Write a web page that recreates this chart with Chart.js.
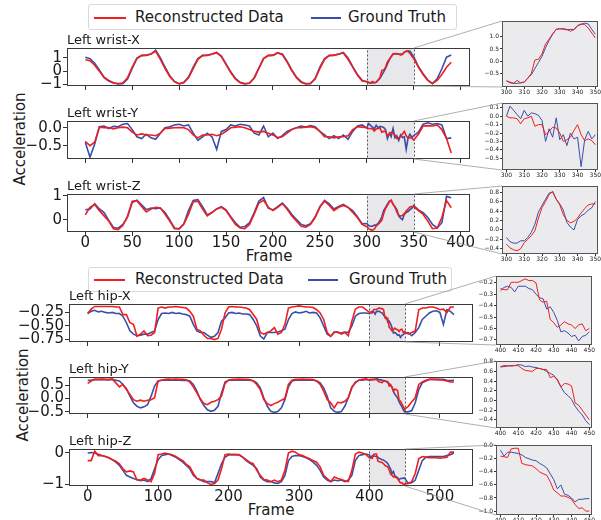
<!DOCTYPE html>
<html>
<head>
<meta charset="utf-8">
<script src="https://cdn.jsdelivr.net/npm/chart.js@4.4.0/dist/chart.umd.min.js"></script>
<style>
body { margin: 0; background: #fff; }
#fig { position: relative; width: 601px; height: 520px; overflow: hidden; background: #fff;
       font-family: "DejaVu Sans", sans-serif; color: #1a1a1a; }
#fig canvas { position: absolute; }
.leg { position: absolute; border: 1px solid #d9d9d9; border-radius: 3px; background: #fff; box-sizing: border-box; }
.leg i { position: absolute; height: 2px; }
.leg span { position: absolute; font-size: 15px; line-height: 15px; white-space: nowrap; }
.lbl { position: absolute; font-size: 15px; line-height: 15px; white-space: nowrap; transform: translate(-50%, -50%); }
</style>
</head>
<body>
<div id="fig">
  <div class="leg" style="left:88px;top:4px;width:369px;height:26px">
    <i style="left:5px;top:12px;width:32px;background:#f01e1e"></i><span style="left:46px;top:5px">Reconstructed Data</span>
    <i style="left:222px;top:12px;width:30px;background:#3a4ea8"></i><span style="left:259px;top:5px">Ground Truth</span>
  </div>
  <div class="leg" style="left:88px;top:267px;width:364px;height:25px">
    <i style="left:5px;top:11px;width:31px;background:#f01e1e"></i><span style="left:46px;top:4px">Reconstructed Data</span>
    <i style="left:219px;top:11px;width:30px;background:#3a4ea8"></i><span style="left:260px;top:4px">Ground Truth</span>
  </div>
  <div class="lbl" style="left:269px;top:256px">Frame</div>
  <div class="lbl" style="left:271px;top:510px">Frame</div>
  <div class="lbl" style="left:20px;top:139px;transform:translate(-50%,-50%) rotate(-90deg)">Acceleration</div>
  <div class="lbl" style="left:23px;top:395px;transform:translate(-50%,-50%) rotate(-90deg)">Acceleration</div>
</div>
<script>
var RED = '#f01e1e', BLUE = '#3a4ea8';
var FONT = '"DejaVu Sans", sans-serif';

function range(a, b, s) { var r = []; for (var v = a; v <= b; v += s) r.push(v); return r; }

// frame indices (coarse outside the zoomed window, every 2nd frame inside it)
var wristFrames = range(0, 295, 5).concat(range(355, 390, 5));
var wristZoomFrames = range(300, 350, 2);
var hipFrames = range(0, 395, 5).concat(range(455, 520, 5));
var hipZoomFrames = range(400, 450, 2);

var wristXTicks = [0, 50, 100, 150, 200, 250, 300, 350, 400];
var hipXTicks = [0, 100, 200, 300, 400, 500];
var wristZoomTicks = [300, 310, 320, 330, 340, 350];
var hipZoomTicks = [400, 410, 420, 430, 440, 450];

// ---- Left wrist ----
var wristX_rec = [0.86,0.8,0.45,0.0,-0.45,-0.7,-0.88,-0.98,-0.9,-0.5,
  0.3,1.0,1.2,1.2,1.3,1.5,0.9,0.2,-0.4,-0.8,
  -0.97,-0.88,-0.5,0.2,0.9,1.18,1.2,1.3,1.42,1.1,
  0.5,-0.1,-0.6,-0.88,-0.98,-0.9,-0.55,0.2,0.95,1.2,
  1.22,1.4,1.25,0.7,0.05,-0.5,-0.85,-0.98,-0.92,-0.6,
  0.2,0.9,1.2,1.2,1.3,1.38,0.9,0.3,-0.3,-0.75,
  0.3,-0.25,-0.7,-0.95,-0.7,-0.25,0.3,0.68];
var wristX_gt = [1.05,0.95,0.6,0.1,-0.5,-0.75,-0.9,-0.95,-0.95,-0.6,
  0.2,0.95,1.18,1.22,1.3,1.6,1.0,0.3,-0.35,-0.78,
  -0.96,-0.85,-0.45,0.3,0.95,1.2,1.22,1.28,1.4,1.15,
  0.55,-0.05,-0.55,-0.85,-0.95,-0.92,-0.5,0.25,0.95,1.18,
  1.2,1.38,1.3,0.75,0.1,-0.45,-0.8,-0.95,-0.96,-0.55,
  0.3,0.95,1.18,1.22,1.28,1.42,1.0,0.35,-0.25,-0.7,
  0.35,-0.2,-0.68,-0.95,-0.58,0.18,1.06,1.22];
var wristX_rec_zoom = [-0.8,-0.85,-0.9,-0.78,-0.88,-0.85,-0.7,-0.5,0.05,0.08,0.3,0.7,0.9,
  1.12,1.3,1.32,1.33,1.3,1.22,1.3,1.45,1.52,1.5,1.35,1.15,0.95];
var wristX_gt_zoom = [-0.8,-0.88,-0.9,-0.9,-0.88,-0.85,-0.68,-0.55,-0.3,-0.05,0.2,0.55,0.85,
  1.1,1.3,1.33,1.3,1.28,1.3,1.28,1.45,1.5,1.55,1.52,1.3,1.1];

var wristY_rec = [-0.38,-0.5,-0.4,0.02,0.0,0.01,-0.03,0.0,0.02,0.0,
  -0.12,-0.2,-0.17,-0.2,-0.2,-0.22,-0.15,-0.02,-0.01,0.0,
  0.01,0.0,-0.05,-0.2,-0.28,-0.2,-0.2,-0.18,-0.22,-0.18,
  -0.1,0.0,0.02,0.03,0.0,-0.05,-0.1,-0.12,-0.1,-0.15,
  -0.2,-0.27,-0.25,-0.15,-0.05,0.0,0.0,0.02,0.03,0.0,
  -0.1,-0.25,-0.25,-0.28,-0.25,-0.25,-0.22,-0.05,0.03,0.02,
  -0.18,0.05,0.06,0.05,0.08,-0.05,-0.3,-0.7];
var wristY_gt = [-0.4,-0.82,-0.45,0.03,0.05,-0.02,0.04,0.03,0.1,0.12,
  -0.05,-0.25,-0.3,-0.18,-0.28,-0.32,-0.15,0.0,0.03,0.08,
  0.1,0.05,0.08,-0.15,-0.35,-0.25,-0.15,-0.25,-0.6,-0.1,
  -0.05,0.08,0.05,0.1,0.08,0.05,-0.15,-0.2,0.05,-0.25,
  -0.15,-0.3,-0.22,-0.1,-0.05,0.0,0.05,0.02,0.06,0.03,
  -0.1,-0.2,-0.3,-0.22,-0.3,-0.2,-0.32,-0.1,0.05,0.08,
  -0.12,0.1,0.14,0.1,0.12,0.08,-0.3,-0.28];
var wristY_rec_zoom = [0.0,-0.02,-0.02,-0.03,-0.09,-0.03,-0.02,0.0,-0.12,-0.1,-0.1,-0.22,-0.18,
  -0.13,-0.14,-0.2,-0.3,-0.28,-0.25,-0.17,-0.1,-0.22,-0.29,-0.27,-0.29,-0.34];
var wristY_gt_zoom = [0.0,0.12,0.07,0.02,-0.03,0.07,0.0,0.04,0.03,0.01,-0.05,-0.3,-0.15,
  -0.25,-0.02,-0.28,-0.22,-0.35,-0.2,-0.27,-0.25,-0.6,-0.28,-0.18,-0.27,-0.22];

var wristZ_rec = [0.2,0.52,0.64,0.38,0.16,-0.06,-0.38,-0.42,-0.25,0.15,
  0.78,0.8,0.55,0.32,0.45,0.52,0.49,0.23,-0.06,-0.38,
  -0.39,-0.2,0.23,0.74,0.78,0.45,0.16,0.3,0.45,0.52,
  0.38,0.09,-0.2,-0.35,-0.38,-0.2,0.23,0.7,0.81,0.52,
  0.38,0.52,0.67,0.45,0.16,-0.06,-0.28,-0.32,-0.2,0.09,
  0.52,0.78,0.6,0.38,0.52,0.6,0.52,0.3,0.09,-0.2,
  0.38,0.23,-0.06,-0.38,-0.35,0.09,0.8,0.5];
var wristZ_gt = [0.42,0.45,0.67,0.45,0.3,-0.03,-0.33,-0.36,-0.2,0.1,
  0.72,0.82,0.62,0.42,0.49,0.46,0.49,0.3,-0.01,-0.35,
  -0.38,-0.17,0.38,0.81,0.84,0.55,0.2,0.3,0.45,0.55,
  0.41,0.12,-0.13,-0.32,-0.29,-0.13,0.3,0.78,0.93,0.49,
  0.41,0.55,0.7,0.49,0.23,0.01,-0.2,-0.26,-0.17,0.12,
  0.55,0.81,0.67,0.45,0.55,0.64,0.52,0.38,0.12,-0.17,
  0.41,0.3,0.09,-0.2,-0.35,-0.13,0.98,0.92];
var wristZ_rec_zoom = [-0.3,-0.38,-0.42,-0.44,-0.4,-0.27,-0.2,-0.12,-0.02,0.25,0.47,0.6,0.75,
  0.82,0.65,0.53,0.32,0.2,0.15,0.18,0.25,0.36,0.45,0.53,0.55,0.55];
var wristZ_gt_zoom = [-0.16,-0.25,-0.28,-0.28,-0.23,-0.23,-0.16,-0.05,0.12,0.38,0.52,0.65,0.78,
  0.8,0.65,0.55,0.42,0.16,0.06,0.0,0.22,0.3,0.34,0.42,0.47,0.6];

// ---- Left hip ----
var hipX_rec = [-0.27,-0.19,-0.14,-0.14,-0.14,-0.14,-0.14,-0.14,-0.15,-0.15,
  -0.29,-0.29,-0.44,-0.47,-0.69,-0.65,-0.59,-0.68,-0.67,-0.62,
  -0.17,-0.15,-0.17,-0.15,-0.15,-0.14,-0.15,-0.16,-0.17,-0.23,
  -0.32,-0.56,-0.59,-0.67,-0.73,-0.73,-0.75,-0.73,-0.56,-0.26,
  -0.15,-0.14,-0.15,-0.15,-0.16,-0.17,-0.2,-0.29,-0.38,-0.62,
  -0.65,-0.62,-0.59,-0.53,-0.65,-0.62,-0.47,-0.17,-0.15,-0.14,
  -0.13,-0.14,-0.15,-0.15,-0.16,-0.2,-0.26,-0.38,-0.62,-0.69,
  -0.62,-0.61,-0.65,-0.62,-0.68,-0.41,-0.19,-0.15,-0.15,-0.2,
  -0.65,-0.62,-0.59,-0.2,-0.17,-0.17,-0.15,-0.15,-0.17,-0.2,-0.19,-0.25,-0.15,-0.15];
var hipX_gt = [-0.27,-0.23,-0.21,-0.24,-0.23,-0.25,-0.26,-0.25,-0.27,-0.27,
  -0.32,-0.44,-0.59,-0.65,-0.68,-0.67,-0.65,-0.65,-0.62,-0.59,
  -0.38,-0.27,-0.26,-0.27,-0.25,-0.27,-0.26,-0.28,-0.29,-0.32,
  -0.47,-0.59,-0.62,-0.62,-0.67,-0.71,-0.69,-0.62,-0.41,-0.35,
  -0.26,-0.25,-0.27,-0.26,-0.28,-0.28,-0.29,-0.38,-0.5,-0.68,
  -0.74,-0.62,-0.62,-0.62,-0.61,-0.59,-0.56,-0.38,-0.27,-0.24,
  -0.26,-0.25,-0.23,-0.26,-0.25,-0.26,-0.35,-0.5,-0.65,-0.69,
  -0.61,-0.62,-0.63,-0.61,-0.62,-0.5,-0.32,-0.27,-0.26,-0.26,
  -0.62,-0.68,-0.62,-0.53,-0.38,-0.32,-0.26,-0.23,-0.22,-0.25,-0.47,-0.2,-0.23,-0.29];
var hipX_rec_zoom = [-0.25,-0.26,-0.26,-0.195,-0.195,-0.195,-0.18,-0.165,-0.18,-0.18,-0.2,-0.35,-0.37,
  -0.36,-0.52,-0.55,-0.59,-0.57,-0.54,-0.56,-0.57,-0.6,-0.57,-0.56,-0.62,-0.6];
var hipX_gt_zoom = [-0.27,-0.24,-0.23,-0.24,-0.28,-0.23,-0.23,-0.23,-0.25,-0.26,-0.3,-0.33,-0.34,
  -0.43,-0.41,-0.46,-0.53,-0.63,-0.62,-0.64,-0.67,-0.66,-0.71,-0.67,-0.66,-0.63];

var hipY_rec = [0.57,0.66,0.72,0.72,0.73,0.72,0.72,0.74,0.59,0.44,
  0.53,0.34,0.15,-0.04,-0.1,-0.06,-0.1,-0.06,-0.04,0.03,
  0.66,0.69,0.72,0.73,0.72,0.73,0.72,0.72,0.71,0.62,
  0.44,0.21,-0.01,-0.19,-0.23,-0.14,-0.1,-0.04,0.09,0.57,
  0.69,0.72,0.72,0.73,0.72,0.72,0.71,0.66,0.53,0.34,
  -0.04,-0.19,-0.26,-0.19,-0.14,-0.06,0.0,0.53,0.69,0.72,
  0.72,0.73,0.72,0.72,0.71,0.66,0.53,0.28,-0.04,-0.16,
  -0.35,-0.14,-0.16,-0.1,0.03,0.44,0.59,0.69,0.72,0.74,
  -0.3,-0.12,0.03,0.53,0.62,0.69,0.72,0.72,0.71,0.72,0.69,0.66,0.62,0.62];
var hipY_gt = [0.69,0.69,0.72,0.71,0.72,0.71,0.7,0.72,0.69,0.66,
  0.53,0.37,0.09,-0.16,-0.29,-0.35,-0.31,-0.23,0.09,0.47,
  0.66,0.69,0.69,0.7,0.69,0.7,0.69,0.68,0.69,0.66,
  0.53,0.28,-0.04,-0.26,-0.42,-0.48,-0.44,-0.29,0.21,0.62,
  0.69,0.7,0.69,0.7,0.69,0.7,0.69,0.67,0.59,0.4,
  0.03,-0.29,-0.48,-0.52,-0.49,-0.35,-0.04,0.44,0.66,0.69,
  0.7,0.69,0.7,0.69,0.69,0.67,0.59,0.4,0.09,-0.35,
  -0.48,-0.52,-0.49,-0.29,0.03,0.4,0.62,0.69,0.69,0.72,
  -0.5,-0.45,-0.16,0.34,0.59,0.66,0.72,0.72,0.72,0.71,0.72,0.69,0.68,0.69];
var hipY_rec_zoom = [0.7,0.72,0.72,0.71,0.72,0.72,0.66,0.62,0.61,0.6,0.66,0.66,0.64,
  0.64,0.47,0.5,0.44,0.28,0.35,0.34,0.3,-0.05,-0.1,-0.2,-0.3,-0.4];
var hipY_gt_zoom = [0.69,0.7,0.71,0.72,0.72,0.74,0.73,0.7,0.71,0.69,0.68,0.66,0.64,
  0.6,0.56,0.52,0.42,0.28,0.16,0.1,0.02,-0.12,-0.22,-0.3,-0.42,-0.5];

var hipZ_rec = [-0.25,-0.25,0.05,-0.09,-0.09,-0.12,-0.16,-0.22,-0.27,-0.35,
  -0.51,-0.61,-0.58,-0.61,-0.87,-0.87,-0.82,-0.87,-0.92,-0.66,
  -0.06,-0.04,-0.01,-0.04,-0.06,-0.12,-0.19,-0.25,-0.37,-0.45,
  -0.66,-0.82,-0.87,-0.87,-0.96,-1.01,-0.98,-0.87,-0.51,-0.06,
  -0.04,-0.06,-0.06,-0.06,-0.14,-0.22,-0.3,-0.35,-0.56,-0.72,
  -0.85,-0.87,-0.92,-0.87,-0.92,-0.87,-0.56,-0.01,0.05,0.02,
  -0.06,-0.09,-0.14,-0.19,-0.25,-0.3,-0.45,-0.72,-0.82,-0.92,
  -0.77,-0.82,-0.85,-0.89,-0.92,-0.56,-0.04,0.02,-0.01,-0.06,
  -0.98,-0.92,-0.66,-0.19,-0.12,-0.14,-0.16,-0.16,-0.16,-0.17,-0.16,-0.14,0.02,0.02];
var hipZ_gt = [-0.01,0.01,-0.01,-0.05,-0.09,-0.12,-0.16,-0.22,-0.3,-0.4,
  -0.56,-0.72,-0.77,-0.82,-0.85,-0.89,-0.87,-0.92,-0.82,-0.51,
  -0.22,-0.09,-0.06,-0.04,-0.09,-0.14,-0.22,-0.3,-0.4,-0.51,
  -0.72,-0.82,-0.87,-0.92,-0.92,-0.92,-0.96,-0.66,-0.35,-0.14,
  -0.07,-0.06,-0.06,-0.07,-0.14,-0.25,-0.33,-0.4,-0.51,-0.77,
  -0.87,-0.92,-0.92,-0.96,-0.98,-0.92,-0.72,-0.25,-0.12,-0.09,
  -0.09,-0.12,-0.16,-0.22,-0.3,-0.4,-0.56,-0.77,-0.87,-0.92,
  -0.87,-0.89,-0.87,-0.92,-0.87,-0.72,-0.25,-0.09,-0.06,-0.04,
  -0.98,-0.96,-0.87,-0.56,-0.25,-0.14,-0.12,-0.12,-0.12,-0.12,-0.12,-0.09,-0.06,-0.01];
var hipZ_rec_zoom = [-0.16,-0.17,-0.18,-0.05,-0.04,-0.04,-0.27,-0.29,-0.3,-0.31,-0.35,-0.4,-0.43,
  -0.45,-0.55,-0.68,-0.72,-0.77,-0.77,-0.79,-0.82,-0.9,-0.96,-0.95,-1.0,-1.0];
var hipZ_gt_zoom = [-0.07,-0.16,-0.1,-0.1,-0.11,-0.12,-0.14,-0.18,-0.2,-0.22,-0.23,-0.27,-0.3,
  -0.34,-0.43,-0.52,-0.66,-0.6,-0.74,-0.76,-0.8,-0.86,-0.82,-0.82,-0.81,-0.81];

function pts(fr, vals) { return fr.map(function (f, i) { return {x: f, y: vals[i]}; }); }
function merged(fa, va, fb, vb) {
  return pts(fa, va).concat(pts(fb, vb)).sort(function (p, q) { return p.x - q.x; });
}
function fmt(d) {
  return function (v) { var s = (Math.abs(v) < 1e-9 ? 0 : v).toFixed(d); return s.replace('-', '\u2212'); };
}

var boxPlugin = {
  id: 'boxes',
  beforeDraw: function (c, a, o) {
    if (!o.bg) return;
    var ca = c.chartArea, g = c.ctx;
    g.save(); g.fillStyle = o.bg; g.fillRect(ca.left, ca.top, ca.width, ca.height); g.restore();
  },
  beforeDatasetsDraw: function (c, a, o) {
    if (!o.zoom) return;
    var ca = c.chartArea, g = c.ctx, sx = c.scales.x;
    var x0 = Math.round(sx.getPixelForValue(o.zoom[0])), x1 = Math.round(sx.getPixelForValue(o.zoom[1]));
    g.save();
    g.fillStyle = '#e8e8eb';
    g.fillRect(x0, ca.top, x1 - x0, ca.height);
    g.setLineDash([2, 2]); g.strokeStyle = '#555'; g.lineWidth = 1;
    g.strokeRect(x0 + 0.5, ca.top + 0.5, x1 - x0, ca.height - 1);
    g.restore();
  },
  afterDraw: function (c, a, o) {
    var ca = c.chartArea, g = c.ctx;
    g.save();
    g.strokeStyle = o.frame; g.lineWidth = 1;
    g.strokeRect(ca.left + 0.5, ca.top + 0.5, ca.width - 1, ca.height - 1);
    if (o.title) {
      g.fillStyle = '#1a1a1a'; g.font = '13px ' + FONT; g.textBaseline = 'bottom';
      g.fillText(o.title, ca.left, ca.top - 1);
    }
    g.restore();
  }
};

var fig = document.getElementById('fig');

function makeChart(box, sets, o) {
  var PL = o.pl, PR = o.pr, PT = o.pt, PB = o.pb;
  var w = box[2] - box[0] + PL + PR, h = box[3] - box[1] + PT + PB;
  var cv = document.createElement('canvas');
  cv.width = w; cv.height = h;
  cv.style.left = (box[0] - PL) + 'px'; cv.style.top = (box[1] - PT) + 'px';
  cv.style.width = w + 'px'; cv.style.height = h + 'px';
  fig.appendChild(cv);
  var tickFont = {family: FONT, size: o.fs, lineHeight: 1};
  var chart = new Chart(cv, {
    type: 'line',
    data: {
      datasets: sets.map(function (s) {
        return {data: s.data, borderColor: s.color, borderWidth: o.lw, pointRadius: 0, tension: 0, fill: false};
      })
    },
    options: {
      responsive: false, animation: false, events: [], devicePixelRatio: 1,
      layout: {padding: {left: 0, right: PR, top: PT, bottom: 0}},
      plugins: {
        legend: {display: false}, tooltip: {enabled: false},
        boxes: {bg: o.bg, zoom: o.zoom, title: o.title, frame: o.frame}
      },
      scales: {
        x: {
          type: 'linear', min: o.xr[0], max: o.xr[1],
          afterBuildTicks: function (s) { s.ticks = o.xt.map(function (v) { return {value: v}; }); },
          afterFit: function (s) { s.height = PB; },
          grid: {drawOnChartArea: false, tickLength: o.tl, color: '#333'},
          border: {display: false},
          ticks: {display: o.xlab, font: tickFont, color: '#1a1a1a', padding: o.xpad, maxRotation: 0,
                  autoSkip: false, callback: function (v) { return String(v); }}
        },
        y: {
          type: 'linear', min: o.yr[0], max: o.yr[1],
          afterBuildTicks: function (s) { s.ticks = o.yt.map(function (v) { return {value: v}; }); },
          afterFit: function (s) { s.width = PL; },
          grid: {drawOnChartArea: false, tickLength: o.tl, color: '#333'},
          border: {display: false},
          ticks: {font: tickFont, color: '#1a1a1a', padding: o.ypad, autoSkip: false, callback: fmt(o.yd)}
        }
      }
    },
    plugins: [boxPlugin]
  });
  chart._off = [box[0] - PL, box[1] - PT];
  return chart;
}

function mainOpts(extra) {
  var o = {pl: 66, pr: 22, pt: 24, pb: 34, fs: 15, lw: 1.6, tl: 4, xpad: 0, ypad: 1, frame: '#3a3a3a', xlab: false};
  for (var k in extra) o[k] = extra[k];
  return o;
}
function insetOpts(extra) {
  var o = {pl: 26, pr: 8, pt: 8, pb: 12, fs: 6, lw: 1, tl: 2, xpad: 0, ypad: 1, frame: '#555', xlab: true, bg: '#ebebee'};
  for (var k in extra) o[k] = extra[k];
  return o;
}

function pair(fr, rec, gt, zfr, zrec, zgt) {
  return [{data: merged(fr, rec, zfr, zrec), color: RED}, {data: merged(fr, gt, zfr, zgt), color: BLUE}];
}
function zpair(zfr, zrec, zgt) {
  return [{data: pts(zfr, zrec), color: RED}, {data: pts(zfr, zgt), color: BLUE}];
}

var wr = [-19.5, 410], hr = [-26.5, 547];

var mWX = makeChart([67, 48, 470, 86], pair(wristFrames, wristX_rec, wristX_gt, wristZoomFrames, wristX_rec_zoom, wristX_gt_zoom),
  mainOpts({xr: wr, xt: wristXTicks, yr: [-1.13, 1.76], yt: [-1, 0, 1], yd: 0, zoom: [300, 350], title: 'Left wrist-X'}));
var mWY = makeChart([67, 121, 470, 159], pair(wristFrames, wristY_rec, wristY_gt, wristZoomFrames, wristY_rec_zoom, wristY_gt_zoom),
  mainOpts({xr: wr, xt: wristXTicks, yr: [-0.87, 0.19], yt: [-0.5, 0], yd: 1, zoom: [300, 350], title: 'Left wrist-Y'}));
var mWZ = makeChart([67, 194, 470, 232], pair(wristFrames, wristZ_rec, wristZ_gt, wristZoomFrames, wristZ_rec_zoom, wristZ_gt_zoom),
  mainOpts({xr: wr, xt: wristXTicks, yr: [-0.52, 1.08], yt: [0, 1], yd: 0, zoom: [300, 350], title: 'Left wrist-Z', xlab: true}));

var mHX = makeChart([69, 304, 473, 342], pair(hipFrames, hipX_rec, hipX_gt, hipZoomFrames, hipX_rec_zoom, hipX_gt_zoom),
  mainOpts({xr: hr, xt: hipXTicks, yr: [-0.795, -0.095], yt: [-0.75, -0.5, -0.25], yd: 2, zoom: [400, 450], title: 'Left hip-X'}));
var mHY = makeChart([69, 377, 473, 414], pair(hipFrames, hipY_rec, hipY_gt, hipZoomFrames, hipY_rec_zoom, hipY_gt_zoom),
  mainOpts({xr: hr, xt: hipXTicks, yr: [-0.58, 0.81], yt: [-0.5, 0, 0.5], yd: 1, zoom: [400, 450], title: 'Left hip-Y'}));
var mHZ = makeChart([69, 449, 473, 486], pair(hipFrames, hipZ_rec, hipZ_gt, hipZoomFrames, hipZ_rec_zoom, hipZ_gt_zoom),
  mainOpts({xr: hr, xt: hipXTicks, yr: [-1.06, 0.12], yt: [-1, 0], yd: 0, zoom: [400, 450], title: 'Left hip-Z', xlab: true}));

var wz = [297.5, 351.5], hz = [397.5, 451.5];
var iWX = makeChart([502, 21, 598, 87], zpair(wristZoomFrames, wristX_rec_zoom, wristX_gt_zoom),
  insetOpts({xr: wz, xt: wristZoomTicks, yr: [-1.05, 1.64], yt: [-0.5, 0, 0.5, 1], yd: 1}));
var iWY = makeChart([502, 103, 598, 170], zpair(wristZoomFrames, wristY_rec_zoom, wristY_gt_zoom),
  insetOpts({xr: wz, xt: wristZoomTicks, yr: [-0.64, 0.157], yt: [-0.5, -0.4, -0.3, -0.2, -0.1, 0, 0.1], yd: 1}));
var iWZ = makeChart([502, 186, 598, 254], zpair(wristZoomFrames, wristZ_rec_zoom, wristZ_gt_zoom),
  insetOpts({xr: wz, xt: wristZoomTicks, yr: [-0.51, 0.93], yt: [-0.4, -0.2, 0, 0.2, 0.4, 0.6, 0.8], yd: 1}));
var iHX = makeChart([496, 276, 592, 345], zpair(hipZoomFrames, hipX_rec_zoom, hipX_gt_zoom),
  insetOpts({xr: hz, xt: hipZoomTicks, yr: [-0.745, -0.14], yt: [-0.7, -0.6, -0.5, -0.4, -0.3, -0.2], yd: 1}));
var iHY = makeChart([496, 361, 592, 428], zpair(hipZoomFrames, hipY_rec_zoom, hipY_gt_zoom),
  insetOpts({xr: hz, xt: hipZoomTicks, yr: [-0.57, 0.815], yt: [-0.4, -0.2, 0, 0.2, 0.4, 0.6, 0.8], yd: 1}));
var iHZ = makeChart([496, 445, 592, 515], zpair(hipZoomFrames, hipZ_rec_zoom, hipZ_gt_zoom),
  insetOpts({xr: hz, xt: hipZoomTicks, yr: [-1.06, 0.01], yt: [-1, -0.8, -0.6, -0.4, -0.2, 0], yd: 1}));

// connector lines between zoom windows and insets
var ov = document.createElement('canvas');
ov.width = 601; ov.height = 520; ov.style.left = '0px'; ov.style.top = '0px';
fig.appendChild(ov);
var g = ov.getContext('2d');
g.strokeStyle = '#9a9a9a'; g.lineWidth = 0.8;
function connect(m, ins, xv) {
  var xs = m._off[0] + m.scales.x.getPixelForValue(xv);
  var mt = m._off[1] + m.chartArea.top, mb = m._off[1] + m.chartArea.bottom;
  var il = ins._off[0] + ins.chartArea.left;
  var it = ins._off[1] + ins.chartArea.top, ib = ins._off[1] + ins.chartArea.bottom;
  g.beginPath();
  g.moveTo(xs, mt); g.lineTo(il, it);
  g.moveTo(xs, mb); g.lineTo(il, ib);
  g.stroke();
}
connect(mWX, iWX, 350); connect(mWY, iWY, 350); connect(mWZ, iWZ, 350);
connect(mHX, iHX, 450); connect(mHY, iHY, 450); connect(mHZ, iHZ, 450);
</script>
</body>
</html>
